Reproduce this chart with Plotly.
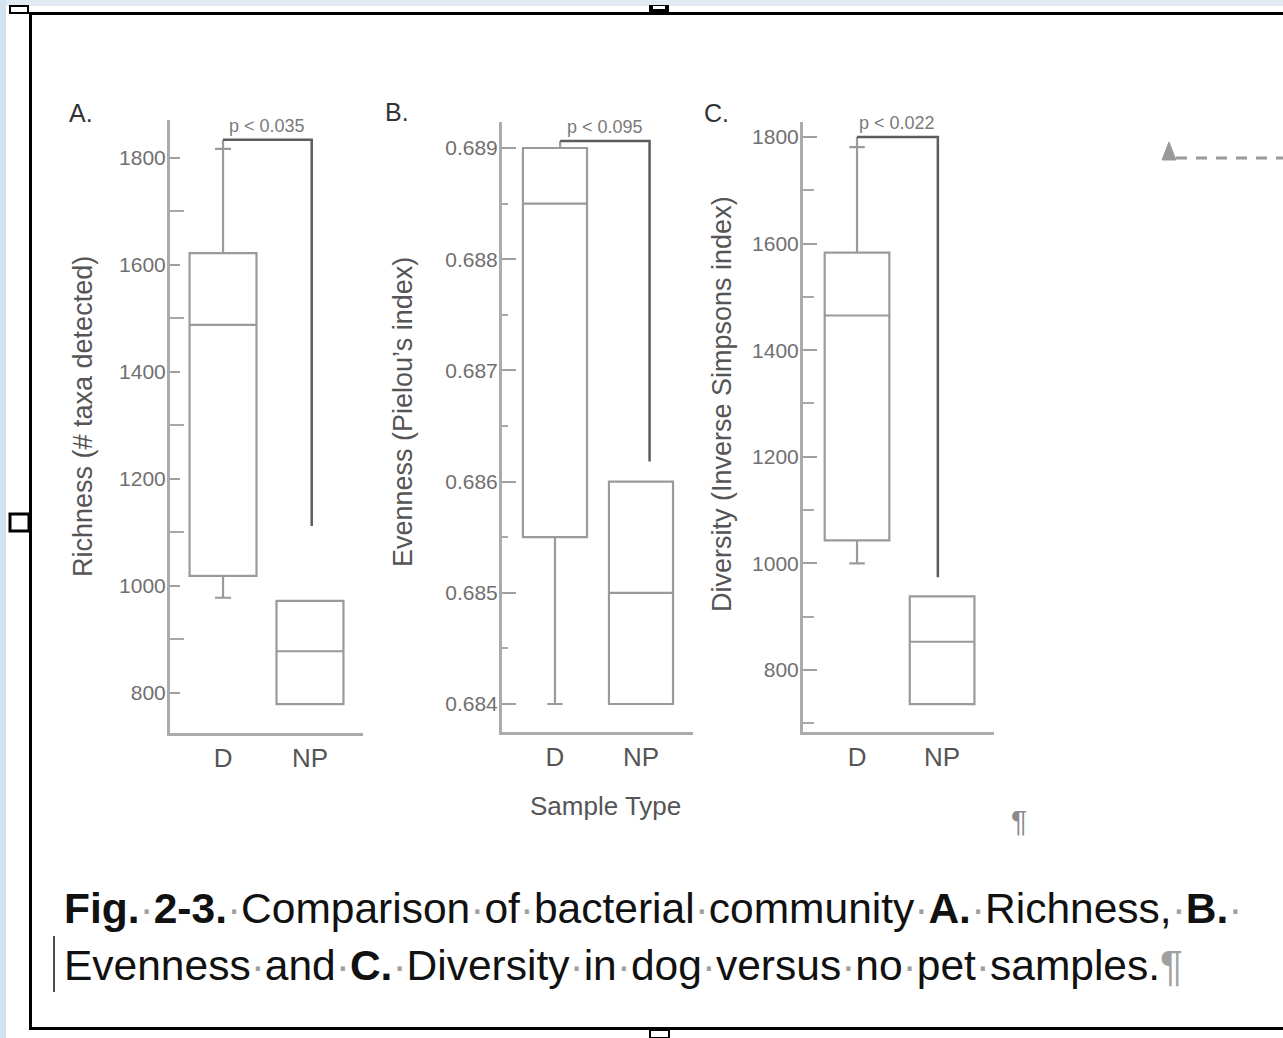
import plotly.graph_objects as go

W, H = 1283, 1038
FONT = "Liberation Sans, Arial, sans-serif"

# ---- data -----------------------------------------------------------------
categories = ["D", "NP"]

# Richness (# taxa detected)
rich_q1 = [1019, 779]
rich_median = [1488, 878]
rich_q3 = [1622, 972]
rich_low = [978, 779]
rich_high = [1817, 972]

# Evenness (Pielou's index)
even_q1 = [0.6855, 0.6840]
even_median = [0.6885, 0.6850]
even_q3 = [0.6890, 0.6860]
even_low = [0.6840, 0.6840]
even_high = [0.6890, 0.6860]

# Diversity (Inverse Simpsons index)
div_q1 = [1043, 736]
div_median = [1465, 853]
div_q3 = [1583, 938]
div_low = [1000, 736]
div_high = [1781, 938]

p_labels = ["p < 0.035", "p < 0.095", "p < 0.022"]
bracket_top = [1834, 0.689063, 1800]
bracket_end = [1112, 0.68618, 974]

y_titles = ["Richness (# taxa detected)", "Evenness (Pielou\u2019s index)",
            "Diversity (Inverse Simpsons index)"]
panel_letters = ["A.", "B.", "C."]
x_title = "Sample Type"


# ---- helpers: page pixels -> paper fractions --------------------------------
def fx(x):
    return x / W


def fy(y):
    return 1 - y / H


stats = [
    (rich_q1, rich_median, rich_q3, rich_low, rich_high),
    (even_q1, even_median, even_q3, even_low, even_high),
    (div_q1, div_median, div_q3, div_low, div_high),
]
positions = list(range(len(categories)))

# panel geometry (pixel box of the axes) and axis set-up
panels = [
    dict(x0=170, x1=363, y0=120, y1=733, yrange=[725.2, 1871], xrange=[-0.61, 1.61],
         boxw=0.77, bx=[0.0, 1.02], tick0=0, dtick=200, mdtick=100, fmt="d",
         ticklen=10, mticklen=14, title_xy=(83, 417), letter_xy=(81, 113)),
    dict(x0=502, x1=693, y0=122, y1=732, yrange=[0.683748, 0.689234], xrange=[-0.616, 1.605],
         boxw=0.745, bx=[0.06, 1.1], tick0=0.684, dtick=0.001, mdtick=0.0005, fmt=".3f",
         ticklen=14, mticklen=6, title_xy=(403, 412), letter_xy=(397, 112)),
    dict(x0=803, x1=994, y0=122, y1=732, yrange=[683.7, 1828], xrange=[-0.635, 1.61],
         boxw=0.76, bx=[0.0, 0.95], tick0=0, dtick=200, mdtick=100, fmt="d",
         ticklen=14, mticklen=11, title_xy=(722, 404), letter_xy=(717, 113)),
]

fig = go.Figure()
annotations = []

for i, (pan, st) in enumerate(zip(panels, stats)):
    n = "" if i == 0 else str(i + 1)
    xa, ya = "x" + n, "y" + n
    q1, med, q3, lo, hi = st

    fig.add_trace(go.Box(
        x=positions, q1=q1, median=med, q3=q3, lowerfence=lo, upperfence=hi,
        width=pan["boxw"], whiskerwidth=0.24, boxpoints=False,
        fillcolor="white", line=dict(color="#9a9a9a", width=2.2),
        xaxis=xa, yaxis=ya, hoverinfo="skip",
    ))

    # significance bracket from the D whisker over to NP
    bx0, bx1 = pan["bx"]
    fig.add_trace(go.Scatter(
        x=[bx0, bx0], y=[hi[0], bracket_top[i]],
        mode="lines", line=dict(color="#9a9a9a", width=2.2),
        xaxis=xa, yaxis=ya, hoverinfo="skip",
    ))
    fig.add_trace(go.Scatter(
        x=[bx0, bx1, bx1], y=[bracket_top[i], bracket_top[i], bracket_end[i]],
        mode="lines", line=dict(color="#5c5c5c", width=2.5),
        xaxis=xa, yaxis=ya, hoverinfo="skip",
    ))
    annotations.append(dict(
        x=(bx0 + bx1) / 2, y=bracket_top[i], xref=xa, yref=ya,
        text=p_labels[i], showarrow=False, yanchor="bottom", yshift=2,
        font=dict(family=FONT, size=18, color="#7a7a7a"),
    ))

    # rotated y-axis title and panel letter
    tx, ty = pan["title_xy"]
    annotations.append(dict(
        x=fx(tx), y=fy(ty), xref="paper", yref="paper", text=y_titles[i],
        textangle=-90, showarrow=False, xanchor="center", yanchor="middle",
        font=dict(family=FONT, size=27, color="#555555"),
    ))
    lx, ly = pan["letter_xy"]
    annotations.append(dict(
        x=fx(lx), y=fy(ly), xref="paper", yref="paper", text=panel_letters[i],
        showarrow=False, xanchor="center", yanchor="middle",
        font=dict(family=FONT, size=25, color="#333333"),
    ))

    xkey = "xaxis" + n
    ykey = "yaxis" + n
    fig.update_layout({
        xkey: dict(
            domain=[fx(pan["x0"]), fx(pan["x1"])], anchor=ya,
            range=pan["xrange"], showgrid=False, zeroline=False,
            tickvals=positions, ticktext=categories,
            showline=True, linecolor="#ababab", linewidth=3, ticks="",
            ticklabelstandoff=0,
            tickfont=dict(family=FONT, size=26, color="#555555"),
        ),
        ykey: dict(
            domain=[fy(pan["y1"]), fy(pan["y0"])], anchor=xa,
            range=pan["yrange"], showgrid=False, zeroline=False,
            showline=True, linecolor="#ababab", linewidth=3,
            ticks="inside", ticklen=pan["ticklen"], tickwidth=2, tickcolor="#a0a0a0",
            tick0=pan["tick0"], dtick=pan["dtick"], tickformat=pan["fmt"],
            minor=dict(dtick=pan["mdtick"], ticks="inside", ticklen=pan["mticklen"],
                       tickwidth=2, tickcolor="#a8a8a8", showgrid=False),
            ticklabelstandoff=-3,
            tickfont=dict(family=FONT, size=21, color="#707070"),
        ),
    })

# shared x title
annotations.append(dict(
    x=fx(605), y=fy(806), xref="paper", yref="paper", text=x_title,
    showarrow=False, xanchor="center", yanchor="middle",
    font=dict(family=FONT, size=26, color="#555555"),
))

# stray paragraph mark below the panels
annotations.append(dict(
    x=fx(1019), y=fy(820), xref="paper", yref="paper", text="\u00b6",
    showarrow=False, xanchor="center", yanchor="middle",
    font=dict(family=FONT, size=30, color="#8a8a8a"),
))

# caption, with the document's visible space and paragraph marks
dot = "<span style='color:#a0a0a0'>\u00b7</span>"


def words(s):
    return dot.join(s.split(" "))


line1 = ("<b>Fig.</b>" + dot + "<b>2-3.</b>" + dot
         + words("Comparison of bacterial community") + dot + "<b>A.</b>" + dot
         + words("Richness,") + dot + "<b>B.</b>" + dot)
line2 = (words("Evenness and") + dot + "<b>C.</b>" + dot
         + words("Diversity in dog versus no pet samples.")
         + "<span style='color:#a0a0a0'>\u00b6</span>")
for txt, yy in [(line1, 908), (line2, 965)]:
    annotations.append(dict(
        x=fx(62), y=fy(yy), xref="paper", yref="paper", text=txt,
        showarrow=False, xanchor="left", yanchor="middle", align="left",
        font=dict(family=FONT, size=42.5, color="#111111"),
    ))


# page furniture: window strip, frame, handles, anchor marker, cursor
def rect(x0, y0, x1, y1, fill, line_color=None, lw=0):
    return dict(type="rect", xref="paper", yref="paper",
                x0=fx(x0), x1=fx(x1), y0=fy(y1), y1=fy(y0),
                fillcolor=fill, line=dict(color=line_color or fill, width=lw), layer="above")


def seg(x0, y0, x1, y1, color, lw, dash=None):
    d = dict(type="line", xref="paper", yref="paper",
             x0=fx(x0), x1=fx(x1), y0=fy(y0), y1=fy(y1),
             line=dict(color=color, width=lw), layer="above")
    if dash:
        d["line"]["dash"] = dash
    return d


shapes = [
    rect(0, 0, W, 6, "#e2eaf3"),
    rect(0, 0, 6, H, "#d3e2ef"),
    seg(30, 13.5, W, 13.5, "black", 3),
    seg(30.5, 12, 30.5, 1030, "black", 3),
    seg(30, 1028.5, W, 1028.5, "black", 3),
    rect(10, 514, 29, 531, "white", "black", 3),
    rect(10, 6, 28, 13, "white", "black", 2),
    rect(650, 6, 668, 13, "black", "black", 2),
    rect(653, 6, 665, 9, "white"),
    rect(650, 1030, 669, 1038, "white", "black", 2),
    dict(type="path", xref="paper", yref="paper", layer="above",
         path=f"M {fx(1162)},{fy(160)} L {fx(1169)},{fy(142)} L {fx(1176)},{fy(160)} Z",
         fillcolor="#999999", line=dict(color="#999999", width=1)),
    seg(1176, 158, W, 158, "#9a9a9a", 3, dash="11px,9px"),
    seg(54, 936, 54, 992, "#111111", 1.5),
]

fig.update_layout(
    width=W, height=H, margin=dict(l=0, r=0, t=0, b=0),
    paper_bgcolor="white", plot_bgcolor="white", showlegend=False,
    boxmode="overlay", annotations=annotations, shapes=shapes,
    font=dict(family=FONT),
)

fig.write_html("out.html")
